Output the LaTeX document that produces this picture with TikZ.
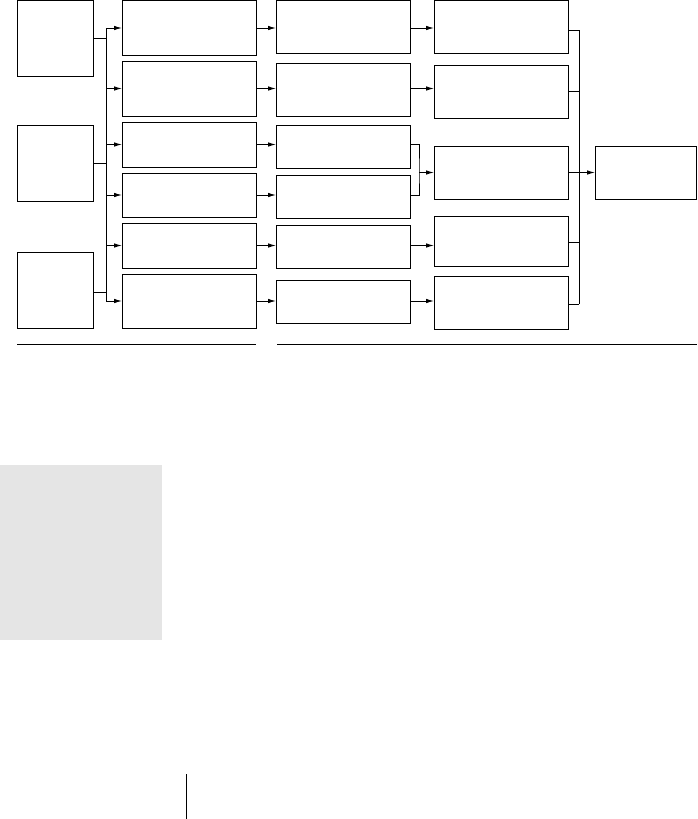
\documentclass[tikz,border=0pt]{standalone}
\usetikzlibrary{arrows.meta,calc}
\begin{document}
\begin{tikzpicture}[x=1pt,y=-1pt,
  box/.style={draw,line width=0.9pt,inner sep=0pt,outer sep=0pt},
  wire/.style={line width=0.9pt},
  arr/.style={line width=0.9pt,-{Latex[length=8pt,width=4.5pt]}},
  rule/.style={line width=0.9pt}]
\useasboundingbox (0,0) rectangle (697,819);
% column A
\node[box,minimum width=76pt,minimum height=76pt] (A1) at (55,38.5) {};
\node[box,minimum width=76pt,minimum height=76pt] (A2) at (55,163) {};
\node[box,minimum width=76pt,minimum height=76pt] (A3) at (55,290) {};
% column B
\node[box,minimum width=134pt,minimum height=54.5pt] (B1) at (189,28) {};
\node[box,minimum width=134pt,minimum height=55pt] (B2) at (189,88.5) {};
\node[box,minimum width=134pt,minimum height=45pt] (B3) at (189,144.5) {};
\node[box,minimum width=134pt,minimum height=44pt] (B4) at (189,195) {};
\node[box,minimum width=134pt,minimum height=45pt] (B5) at (189,245.5) {};
\node[box,minimum width=134pt,minimum height=54pt] (B6) at (189,301) {};
% column C
\node[box,minimum width=134pt,minimum height=52.5pt] (C1) at (343,27) {};
\node[box,minimum width=134pt,minimum height=53pt] (C2) at (343,89.5) {};
\node[box,minimum width=134pt,minimum height=43pt] (C3) at (343,146.5) {};
\node[box,minimum width=134pt,minimum height=43pt] (C4) at (343,196.5) {};
\node[box,minimum width=134pt,minimum height=43pt] (C5) at (343,246.5) {};
\node[box,minimum width=134pt,minimum height=43pt] (C6) at (343,301.5) {};
% column D
\node[box,minimum width=134pt,minimum height=52.5pt] (D1) at (501,27) {};
\node[box,minimum width=134pt,minimum height=53pt] (D2) at (501,91.5) {};
\node[box,minimum width=134pt,minimum height=53pt] (D3) at (501,172.5) {};
\node[box,minimum width=134pt,minimum height=50pt] (D4) at (501,241) {};
\node[box,minimum width=134pt,minimum height=53pt] (D5) at (501,302.5) {};
% column E
\node[box,minimum width=101pt,minimum height=53pt] (E) at (645.5,172.5) {};
% bus A -> B
\coordinate (bt) at (106,28);
\coordinate (bb) at (106,301);
\draw[wire] (bt) -- (bb);
\draw[wire] (A1.east) -- (A1.east -| bt);
\draw[wire] (A2.east) -- (A2.east -| bt);
\draw[wire] ($(A3.east)+(0,2)$) -- ($(A3.east -| bt)+(0,2)$);
\foreach \b in {B1,B2,B3,B4,B5,B6}{
  \draw[arr] (\b.west -| bt) -- (\b.west);
}
% B -> C
\draw[arr] (B1.east) -- (B1.east -| C1.west);
\draw[arr] (B2.east) -- (B2.east -| C2.west);
\draw[arr] (B3.east) -- (B3.east -| C3.west);
\draw[arr] (B4.east) -- (B4.east -| C4.west);
\draw[arr] (B5.east) -- (B5.east -| C5.west);
\draw[arr] (B6.east) -- (B6.east -| C6.west);
% C -> D
\draw[arr] (B1.east -| C1.east) -- (B1.east -| D1.west);
\draw[arr] (B2.east -| C2.east) -- (B2.east -| D2.west);
\coordinate (mx) at (419,172);
\draw[wire] (B3.east -| C3.east) -| (mx) |- (B4.east -| C4.east);
\draw[arr] (D3.west -| mx) -- (D3.west);
\draw[arr] (B5.east -| C5.east) -- (B5.east -| D4.west);
\draw[arr] (B6.east -| C6.east) -- (B6.east -| D5.west);
% D -> E
\coordinate (dt) at (579,30);
\coordinate (db) at (579,304);
\draw[wire] (dt) -- (db);
\draw[wire] ($(D1.east)+(0,3)$) -- (dt);
\draw[wire] (D2.east) -- (D2.east -| dt);
\draw[wire] ($(D4.east)+(0,1)$) -- ($(D4.east -| dt)+(0,1)$);
\draw[wire] ($(D5.east)+(0,1.5)$) -- (db);
\draw[arr] (D3.east) -- (E.west);
% rules
\draw[rule] (17,344) -- (256,344);
\draw[rule] (277,344) -- (697,344);
% grey panel
\fill[black!10] (0,465) rectangle (162,640);
% bottom vertical line
\draw[rule] (186,774) -- (186,819);
\end{tikzpicture}
\end{document}
